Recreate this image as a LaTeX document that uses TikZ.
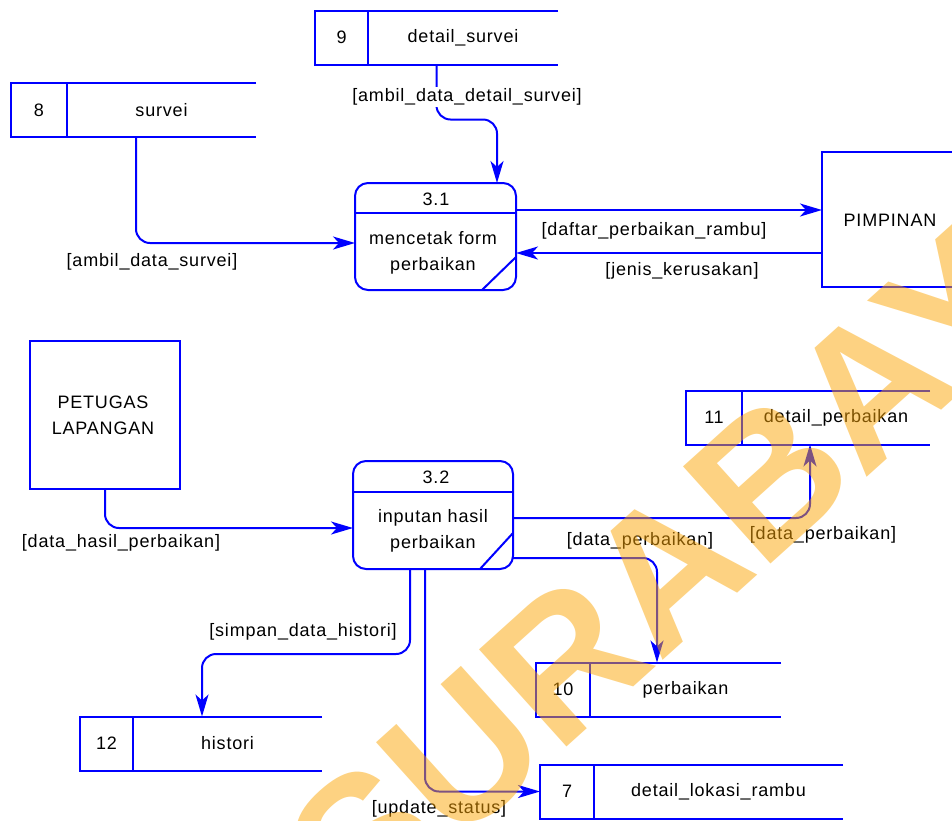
\documentclass[tikz,border=0pt]{standalone}
\usepackage{fontspec}
\setmainfont{Liberation Sans}[LetterSpace=4.5]
\newfontfamily\wmfont{Liberation Sans}
\usetikzlibrary{arrows.meta,calc}
\definecolor{dfdblue}{RGB}{0,0,255}
\definecolor{wmorange}{RGB}{251,165,5}
\tikzset{
  txt/.style={font=\fontsize{18}{26}\selectfont, text=black, inner sep=1pt, align=center},
  lbl/.style={txt},
  lblw/.style={txt, fill=white, inner sep=2pt},
  bline/.style={draw=dfdblue, line width=2pt},
  flow/.style={draw=dfdblue, line width=2pt, rounded corners=14pt},
  arr/.style={-{Stealth[length=22pt,width=13pt,inset=6pt]}},
  area/.style={inner sep=0pt, outer sep=0pt, minimum width=#1},
  procbox/.style={bline, rounded corners=13pt, inner sep=0pt, outer sep=0pt},
  entity/.style={bline, inner sep=0pt, outer sep=0pt},
}
% data store: number cell plus open-ended name area
\newcommand{\datastore}[6]{% name, center, width, divider offset, number, label
  \node[area=#3, minimum height=54pt] (#1) at (#2) {};
  \draw[bline] (#1.north east) -- (#1.north west) -- (#1.south west) -- (#1.south east);
  \draw[bline] ([xshift=#4]#1.north west) -- ([xshift=#4]#1.south west);
  \node[txt] (#1num) at ($(#1.west)+(#4/2,0)$) {#5};
  \node[txt] (#1name) at ($(#1.west)!0.5!(#1.east)+(#4/2,0)$) {#6};
}
\begin{document}
\begin{tikzpicture}[x=1pt, y=-1pt]
\useasboundingbox (0,0) rectangle (952,820);
\clip (0,0) rectangle (952,820);

% ---- data stores ----
\datastore{s9}{436.5,37.5}{243pt}{53pt}{9}{detail\_survei}
\datastore{s8}{133.5,110}{245pt}{56pt}{8}{survei}
\datastore{s11}{808,417.5}{244pt}{56pt}{11}{detail\_perbaikan}
\datastore{s10}{658.5,689.5}{245pt}{54pt}{10}{perbaikan}
\datastore{s12}{201,743.5}{242pt}{53pt}{12}{histori}
\datastore{s7}{691.5,791.5}{303pt}{54pt}{7}{detail\_lokasi\_rambu}

% ---- external entities ----
\node[entity, minimum width=138pt, minimum height=135pt] (pim) at (891,219.5) {};
\node[txt] (pimtxt) at (890,220) {PIMPINAN};
\node[entity, minimum width=150pt, minimum height=148pt] (pet) at (105,415) {};
\node[txt] (pettxt) at (103,415) {PETUGAS\\LAPANGAN};

% ---- processes ----
\node[procbox, minimum width=161pt, minimum height=107pt] (p31) at (435.5,236.5) {};
\draw[bline] ([yshift=-30pt]p31.north west) -- ([yshift=-30pt]p31.north east);
\draw[bline] ([xshift=-34pt]p31.south east) -- ([yshift=33pt]p31.south east);
\node[txt] (p31id) at (436,199) {3.1};
\node[txt] (p31txt) at (433,252.5) {mencetak form\\perbaikan};

\node[procbox, minimum width=160pt, minimum height=108pt] (p32) at (433,515) {};
\draw[bline] ([yshift=-31pt]p32.north west) -- ([yshift=-31pt]p32.north east);
\draw[bline] ([xshift=-33pt]p32.south east) -- ([yshift=36pt]p32.south east);
\node[txt] (p32id) at (436,477) {3.2};
\node[txt] (p32txt) at (433,530.5) {inputan hasil\\perbaikan};

% ---- data flows ----
\draw[flow, arr] (s9.south) -- ++(0,55) -| ([xshift=61.5pt]p31.north);
\node[lblw] (f1) at (467,97) {[ambil\_data\_detail\_survei]};

\draw[flow, arr] ([xshift=2.5pt]s8.south) |- ([yshift=-6.5pt]p31.west);
\node[lbl] (f2) at (152,262) {[ambil\_data\_survei]};

\draw[flow, arr] ([yshift=26.5pt]p31.east) -- ([yshift=26.5pt]p31.east -| pim.west);
\node[lbl] (f3) at (654,231) {[daftar\_perbaikan\_rambu]};

\draw[flow, arr] ([yshift=-33.5pt]pim.west) -- ([yshift=-33.5pt]pim.west -| p31.east);
\node[lbl] (f4) at (682,271) {[jenis\_kerusakan]};

\draw[flow, arr] (pet.south) |- ([yshift=-13pt]p32.west);
\node[lbl] (f5) at (121,543) {[data\_hasil\_perbaikan]};

\draw[flow, arr] ([yshift=-3pt]p32.east) -| ([xshift=2pt]s11.south);
\node[lbl] (f6) at (823,535) {[data\_perbaikan]};

\draw[flow, arr] ([yshift=-43pt]p32.east) -| ([xshift=-1.5pt]s10.north);
\node[lbl] (f7) at (640,541) {[data\_perbaikan]};

\draw[flow, arr] ([xshift=-23pt]p32.south) -- ++(0,85) -| ([xshift=1pt]s12.north);
\node[lbl] (f8) at (303,632) {[simpan\_data\_histori]};

\draw[flow, arr] ([xshift=-8pt]p32.south) |- (s7.west);
\node[lbl] (f9) at (439,809) {[update\_status]};

% ---- watermark ----
\node[font=\wmfont\bfseries\fontsize{190}{190}\selectfont, text=wmorange, text opacity=0.5,
      rotate=42, inner sep=0pt] (wmark) at (705,535) {SURABAYA};
\end{tikzpicture}
\end{document}
